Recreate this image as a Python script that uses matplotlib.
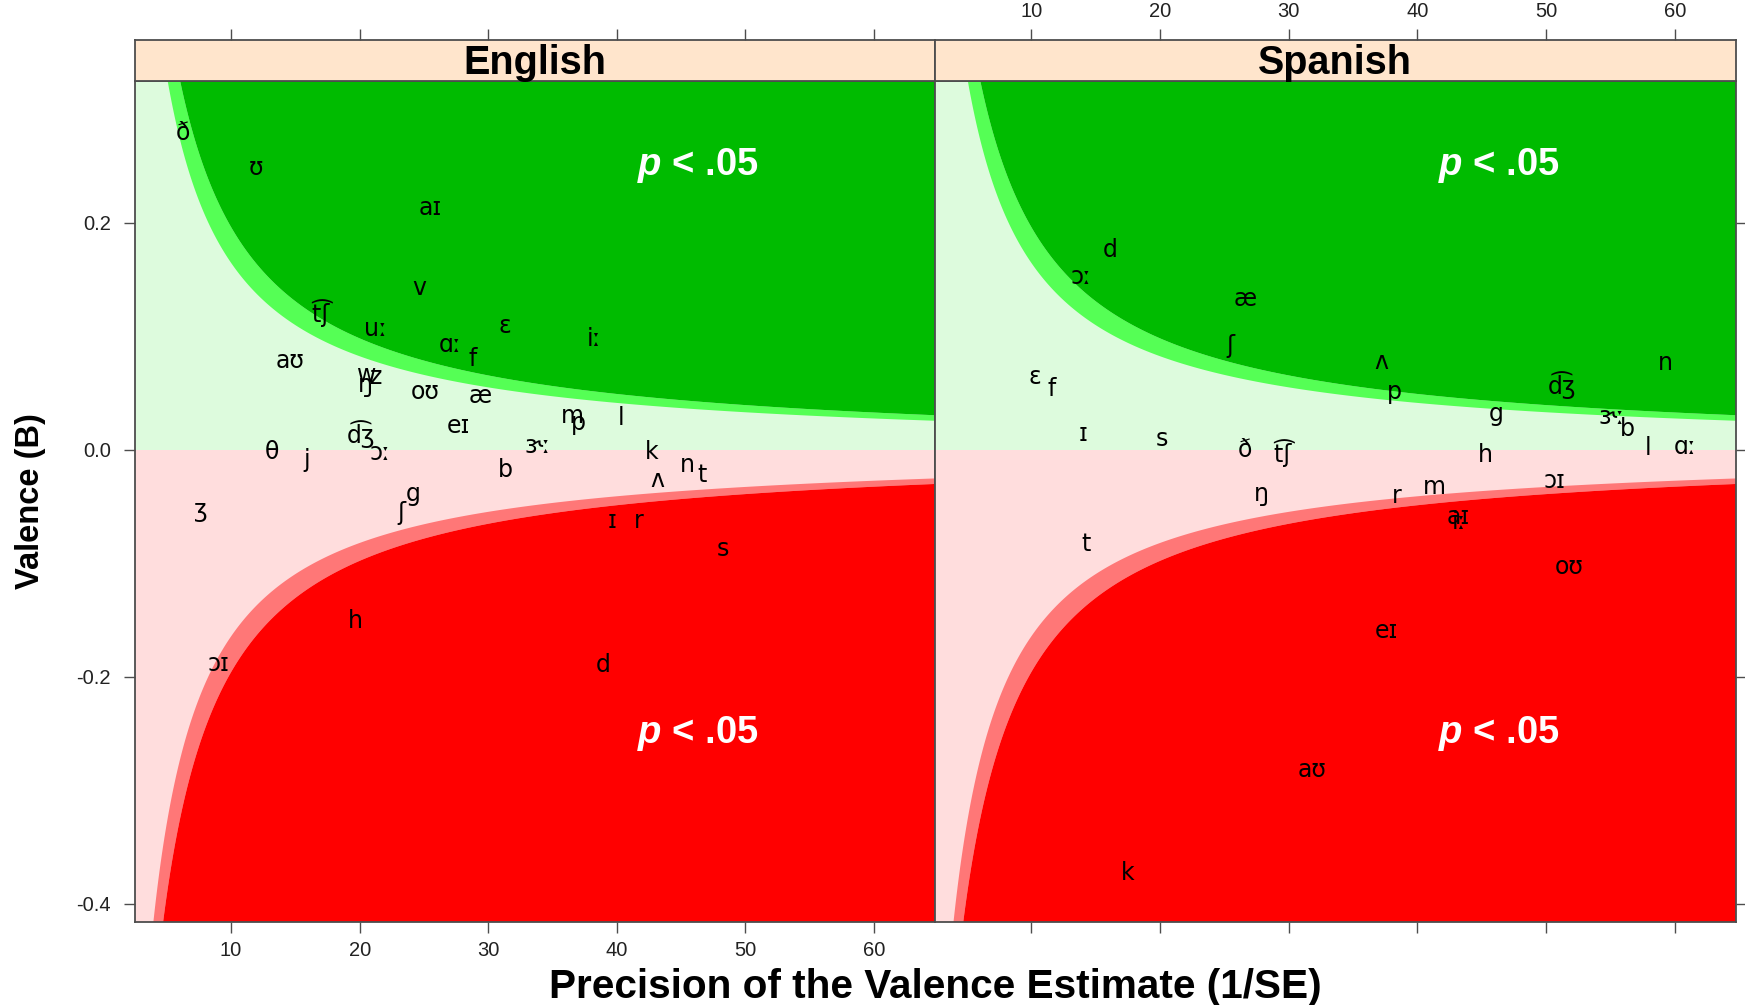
import numpy as np
import matplotlib
matplotlib.use("Agg")
import matplotlib.pyplot as plt

plt.rcParams['axes.unicode_minus'] = False
plt.rcParams['mathtext.fontset'] = 'custom'
plt.rcParams['mathtext.bfit'] = 'Liberation Sans:italic:bold'

# ---- data: phoneme labels, precision (1/SE) and valence estimate (B) ----
en_labels = ["ð", "ʊ", "aɪ", "v", "t͡ʃ", "uː", "ɛ", "iː", "ɑː", "f", "aʊ", "w", "z", "ŋ",
             "oʊ", "æ", "m", "p", "l", "d͡ʒ", "eɪ", "ɝː", "θ", "j", "ɔː", "b", "g", "ʒ",
             "ʃ", "k", "n", "t", "ʌ", "ɪ", "r", "s", "h", "ɔɪ", "d"]
en_precision = [6.26, 11.91, 25.51, 24.66, 16.96, 21.24, 31.29, 38.21, 27.07, 28.80, 14.58,
                20.54, 21.32, 20.46, 25.13, 29.35, 36.53, 37.04, 40.36, 20.13, 27.72, 33.81,
                13.21, 15.88, 21.58, 31.35, 24.16, 7.66, 23.24, 42.69, 45.52, 46.66, 43.16,
                39.62, 41.68, 48.29, 19.65, 9.04, 38.92]
en_valence = [0.279, 0.248, 0.213, 0.142, 0.120, 0.106, 0.109, 0.097, 0.092, 0.080, 0.078,
              0.066, 0.064, 0.057, 0.051, 0.047, 0.030, 0.023, 0.028, 0.014, 0.021, 0.003,
              -0.002, -0.009, -0.003, -0.018, -0.039, -0.053, -0.056, -0.002, -0.014, -0.022,
              -0.027, -0.063, -0.063, -0.088, -0.151, -0.189, -0.190]

es_labels = ["d", "ɔː", "æ", "ʃ", "ɛ", "f", "ɪ", "s", "ð", "t͡ʃ", "ŋ", "t", "ʌ", "p", "g",
             "d͡ʒ", "n", "ɝː", "b", "l", "ɑː", "h", "r", "m", "ɔɪ", "aɪ", "iː", "oʊ", "eɪ",
             "aʊ", "k"]
es_precision = [16.16, 13.89, 26.58, 25.47, 10.26, 11.55, 14.01, 20.18, 26.58, 29.56, 27.88,
                14.28, 37.20, 38.24, 46.09, 51.20, 59.28, 55.08, 56.30, 57.93, 60.80, 45.24,
                38.37, 41.34, 50.68, 43.16, 43.24, 51.76, 37.57, 31.82, 17.47]
es_valence = [0.176, 0.152, 0.133, 0.091, 0.064, 0.053, 0.014, 0.009, 0.000, -0.003, -0.039,
              -0.083, 0.077, 0.051, 0.031, 0.057, 0.076, 0.029, 0.018, 0.001, 0.002, -0.005,
              -0.041, -0.033, -0.028, -0.059, -0.064, -0.103, -0.160, -0.282, -0.373]

panels = ["English", "Spanish"]
x_ticks = [10, 20, 30, 40, 50, 60]
y_ticks = [-0.4, -0.2, 0.0, 0.2]
z_marginal = 1.645   # p < .10
z_sig = 1.96         # p < .05

XLIM = (2.5, 64.75)
YLIM = (-0.4157, 0.3247)

DARK_GREEN = "#00BB00"
BAND_GREEN = "#55FF55"
PALE_GREEN = "#DDFBDD"
PALE_RED = "#FFDDDD"
BAND_RED = "#FF7777"
RED = "#FF0000"
STRIP = "#FFE5CC"
FRAME = "#4D4D4D"

W, H = 1745, 1005
fig = plt.figure(figsize=(W / 100, H / 100), dpi=100)
fig.patch.set_facecolor("white")


def box(x0, y0, x1, y1):
    return [x0 / W, 1 - y1 / H, (x1 - x0) / W, (y1 - y0) / H]


bounds = [(134.7, 934.8), (934.8, 1736.0)]
plot_top, plot_bot, strip_top = 81.0, 921.5, 40.0
data = [(en_labels, en_precision, en_valence), (es_labels, es_precision, es_valence)]

xs = np.linspace(0.5, 70, 3000)
for i, ((x0, x1), name, (labs, px, vy)) in enumerate(zip(bounds, panels, data)):
    ax = fig.add_axes(box(x0, plot_top, x1, plot_bot))
    ax.set_xlim(*XLIM)
    ax.set_ylim(*YLIM)

    # significance regions of the funnel
    ax.axhspan(0, 1, color=PALE_GREEN, lw=0, zorder=0)
    ax.axhspan(-1, 0, color=PALE_RED, lw=0, zorder=0)
    ax.fill_between(xs, z_marginal / xs, z_sig / xs, color=BAND_GREEN, lw=0, zorder=1)
    ax.fill_between(xs, z_sig / xs, 10, color=DARK_GREEN, lw=0, zorder=1)
    ax.fill_between(xs, -z_sig / xs, -z_marginal / xs, color=BAND_RED, lw=0, zorder=1)
    ax.fill_between(xs, -10, -z_sig / xs, color=RED, lw=0, zorder=1)

    for t, xv, yv in zip(labs, px, vy):
        ax.text(xv, yv, t, ha="center", va="center", fontsize=17,
                family="DejaVu Sans", color="black", zorder=3)

    for yv in (0.25, -0.25):
        ax.text(46.3, yv, r"$\mathbfit{p}$ < .05", ha="center", va="center",
                fontsize=27.5, fontweight="bold", family="Liberation Sans",
                color="white", zorder=4)

    for s in ax.spines.values():
        s.set_color(FRAME)
        s.set_linewidth(1.3)
    ax.set_xticks(x_ticks)
    ax.set_yticks(y_ticks)
    ax.tick_params(direction="out", length=8, width=1, color=FRAME,
                   labelsize=14.5, labelcolor="#222222")
    ax.xaxis.set_tick_params(pad=6)
    ax.yaxis.set_tick_params(pad=9)
    ax.set_xticklabels([str(v) for v in x_ticks] if i == 0 else [])
    ax.set_yticklabels([f"{v:.1f}" for v in y_ticks])
    for lab in ax.get_xticklabels() + ax.get_yticklabels():
        lab.set_family("Liberation Sans")
    if i == 0:
        ax.tick_params(axis="y", left=True, right=False, labelleft=True, labelright=False)
    else:
        ax.tick_params(axis="y", left=False, right=True, labelleft=False, labelright=False)

    # strip with the language name
    st = fig.add_axes(box(x0, strip_top, x1, plot_top))
    st.set_facecolor(STRIP)
    st.set_xlim(*XLIM)
    st.set_ylim(0, 1)
    st.set_yticks([])
    st.xaxis.tick_top()
    st.set_xticks(x_ticks)
    st.tick_params(axis="x", direction="out", length=8, width=1, color=FRAME,
                   labelsize=14.5, labelcolor="#222222", pad=6)
    st.set_xticklabels([str(v) for v in x_ticks] if i == 1 else [])
    for lab in st.get_xticklabels():
        lab.set_family("Liberation Sans")
    for s in st.spines.values():
        s.set_color(FRAME)
        s.set_linewidth(1.3)
    st.text(0.5, 0.45, name, transform=st.transAxes, ha="center", va="center",
            fontsize=28.5, fontweight="bold", family="Liberation Sans")

fig.text(31 / W, 1 - 501 / H, "Valence (B)", rotation=90, ha="center", va="center",
         fontsize=23.5, fontweight="bold", family="Liberation Sans")
fig.text(935 / W, 1 - 987 / H, "Precision of the Valence Estimate (1/SE)",
         ha="center", va="center", fontsize=29.2, fontweight="bold", family="Liberation Sans")

fig.savefig("out.png", dpi=100)
